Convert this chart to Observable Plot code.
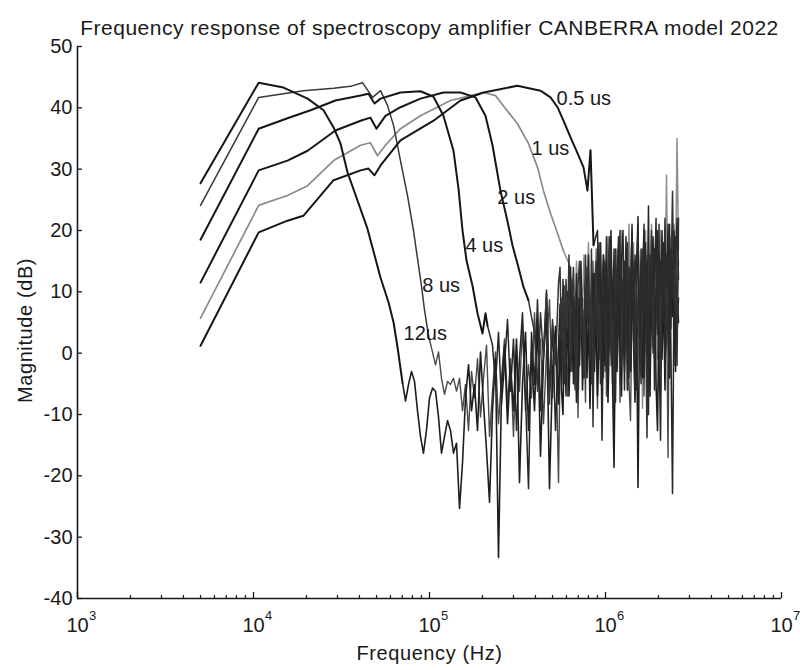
<!DOCTYPE html>
<html><head><meta charset="utf-8">
<script src="https://cdn.jsdelivr.net/npm/d3@7"></script>
<script src="https://cdn.jsdelivr.net/npm/@observablehq/plot@0.6"></script>
<style>body{margin:0;background:#fff}</style>
</head><body><div id="chart"></div>
<script>
const titleText = ["Frequency response of spectroscopy amplifier CANBERRA model 2022"];
const xTitle = ["Frequency (Hz)"];
const yTitle = ["Magnitude (dB)"];
const xDomain = [1e3, 1e7];
const yDomain = [-40, 50];
const yTicks = [-40, -30, -20, -10, 0, 10, 20, 30, 40, 50];
const xMajor = [1e3, 1e4, 1e5, 1e6, 1e7];
const xExp = ["3", "4", "5", "6", "7"];
const xMinor = [2e3,3e3,4e3,5e3,6e3,7e3,8e3,9e3, 2e4,3e4,4e4,5e4,6e4,7e4,8e4,9e4,
  2e5,3e5,4e5,5e5,6e5,7e5,8e5,9e5, 2e6,3e6,4e6,5e6,6e6,7e6,8e6,9e6];

const seriesNames = ["12us", "8us", "4us", "2us", "1us", "0.5us"];

// smooth (low-frequency) parts
const hz12 = [5e3,1.07e4,1.48e4,2.03e4,2.50e4,2.85e4,3.12e4,3.42e4,4.44e4,5.27e4,5.85e4,6.25e4,6.58e4,7.03e4];
const db12 = [27.7,44.1,43.3,41.5,39.6,36.8,34.2,29.5,20.3,12.3,8.3,5.0,1.0,-4.9];
const hz8 = [5e3,1.07e4,1.92e4,2.85e4,3.56e4,4.16e4,4.75e4,5.27e4,5.77e4,6.25e4,6.84e4,7.50e4,8.11e4,8.55e4,9.0e4,9.37e4,9.87e4];
const db8 = [24.1,41.7,42.8,43.2,43.5,44.1,41.7,42.8,40.4,37.1,31.4,25.7,20.0,15.4,11.0,7.0,2.9];
const hz4 = [5e3,1.07e4,1.56e4,2.11e4,2.92e4,4.06e4,4.50e4,4.87e4,5.27e4,6.84e4,8.89e4,1.054e5,1.20e5,1.369e5,1.462e5,1.54e5,1.623e5,1.755e5,1.874e5,2.00e5,2.08e5,2.136e5];
const db4 = [18.5,36.6,38.3,39.6,41.2,42.0,42.3,40.7,41.5,42.5,42.7,41.8,38.7,33.0,26.8,20.0,15.1,11.0,6.5,3.2,6.5,4.5];
const hz2 = [5e3,1.07e4,1.56e4,2.03e4,2.92e4,4.06e4,4.62e4,5.00e4,5.62e4,6.84e4,8.89e4,1.20e5,1.50e5,1.826e5,2.08e5,2.28e5,2.53e5,2.77e5,2.96e5,3.20e5,3.42e5,3.65e5];
const db2 = [11.5,29.8,31.4,33.0,36.3,37.9,38.4,36.6,38.7,40.1,41.5,42.5,42.5,41.7,38.7,33.9,26.5,21.6,17.6,14.0,10.8,8.6];
const hz1 = [5e3,1.07e4,1.56e4,2.03e4,2.85e4,4.06e4,4.62e4,5.06e4,5.62e4,6.84e4,8.89e4,1.316e5,1.71e5,2.03e5,2.37e5,2.70e5,3.16e5,3.65e5,4.11e5,4.44e5,4.87e5,5.34e5,5.77e5];
const db1 = [5.7,24.1,25.7,27.3,31.4,33.9,34.3,32.2,33.9,36.6,38.7,41.2,42.0,42.5,42.0,39.9,37.4,34.2,30.3,26.5,22.8,19.5,16.7];
const hz05 = [5e3,1.07e4,1.56e4,1.92e4,2.85e4,4.06e4,4.50e4,4.87e4,5.27e4,6.84e4,1.054e5,1.50e5,2.03e5,3.16e5,4.27e5,4.87e5,5.34e5,5.77e5,6.33e5,6.93e5,7.50e5,7.90e5,8.22e5,8.55e5];
const db05 = [1.2,19.7,21.6,22.4,28.2,29.8,30.1,29.0,30.6,34.7,37.9,41.2,42.5,43.6,42.8,41.7,40.1,37.9,35.2,32.6,30.3,26.5,33.1,17.6];

// noisy high-frequency parts: shared frequency bins, each series uses the tail
const noiseHz = [7.31e4,7.60e4,7.90e4,8.22e4,8.55e4,8.89e4,9.24e4,9.61e4,1.000e5,1.040e5,
 1.082e5,1.125e5,1.170e5,1.217e5,1.266e5,1.316e5,1.369e5,1.424e5,1.481e5,1.540e5,
 1.602e5,1.666e5,1.733e5,1.802e5,1.874e5,1.949e5,2.027e5,2.109e5,2.193e5,2.280e5,
 2.371e5,2.466e5,2.566e5,2.668e5,2.775e5,2.886e5,3.001e5,3.122e5,3.246e5,3.376e5,
 3.512e5,3.652e5,3.798e5,3.950e5,4.108e5,4.273e5,4.444e5,4.622e5,4.806e5,5.000e5,
 5.200e5,5.408e5,
 5.515e5,5.623e5,5.734e5,5.848e5,5.964e5,6.083e5,6.203e5,6.326e5,6.451e5,6.579e5,
 6.709e5,6.842e5,6.978e5,7.116e5,7.257e5,7.401e5,7.548e5,7.697e5,7.850e5,8.005e5,
 8.164e5,8.325e5,8.490e5,8.660e5,8.832e5,9.005e5,9.183e5,9.367e5,9.553e5,9.741e5,
 9.934e5,1.013e6,1.033e6,1.054e6,1.075e6,1.096e6,1.118e6,1.140e6,1.163e6,1.186e6,
 1.209e6,1.233e6,1.257e6,1.282e6,1.307e6,1.334e6,1.360e6,1.387e6,1.415e6,1.443e6,
 1.471e6,1.500e6,1.530e6,1.561e6,1.592e6,1.623e6,1.655e6,1.688e6,1.721e6,1.755e6,
 1.790e6,1.826e6,1.862e6,1.899e6,1.937e6,1.975e6,2.014e6,2.054e6,2.095e6,2.136e6,
 2.178e6,2.222e6,2.266e6,2.311e6,2.357e6,2.403e6,2.451e6,2.499e6,2.549e6,2.599e6];
const noise12 = [-7.8,-5.1,-3,-4.6,-9.4,-13.6,-16.3,-12.6,-7.3,-5.7,
 -6.2,-10.4,-16.3,-13.6,-11,-12.6,-16.3,-14.7,-25.3,-17.9,
 -7.3,-1.9,-9.4,-5.1,-12.6,0.2,-8.3,-15.8,-24.3,-9.4,
 -0.9,-33.3,-6.2,1.3,-11.5,-1.9,-9.4,2.3,-21.1,-5.1,
 3.4,-12.6,0.2,-9.4,5.5,-16.8,-0.9,6.6,-22.1,-3,
 4.4,-8.3,
 3,-6,-10,5,-3,8,-7,2,10,-5,
 4,-8,9,-2,11,-6,3,12,-4,7,
 -9,5,13,-3,8,-7,2,12,-5,9,
 -2,14,-8,4,11,-4,-18.6,6,-3,13,
 1,-7,10,-1,15,-6,7,-3,14,2,
 -8,9,-21.9,5,13,-4,8,16,-2,10,
 -7,12,1,17,-5,-12.6,9,15,-1,11,
 -6,16,3,-4,14,6,18,-3,10,5];
const noise8 = [-1.9,0.2,-4.1,-6.7,-4.6,-5.1,-4.1,-6.2,-4.1,-9.4,
 -5.1,-12.6,-3,-7.3,-0.9,-10.4,-4.1,1.3,-13.6,-6.2,
 0.2,-11.5,-4.1,2.3,-8.3,-0.9,-13.6,1.3,-6.2,4.4,
 -9.4,-1.9,-7.3,6.6,-5.1,2.3,-11.5,0.2,8.7,-7.3,
 3.4,-21.1,
 -2,9,-5,11,0,-7,8,-3,12,1,
 -6,10,-10.5,4,13,-2,7,-8,14,2,
 9,-5,15,-1,6,-9,16,3,10,-4,
 12,-7,5,17,-2,8,-6,14,0,11,
 -8,16,4,-3,12,7,-5,-11,9,15,
 1,-6,13,6,-2,17,-7,10,3,15,
 -4,11,18,-1,7,17,-6,12,2,16,
 -3,9,-17,14,4,19,-2,12,7,15];
const noise4 = [1.3,-5.1,3.4,-8.3,-1.9,5.5,-6.2,2.3,-12.6,-0.9,
 6.6,-7.3,-22.1,3.4,-5.1,8.7,-9.4,0.2,9.8,-6.2,
 4.4,-12.6,1.3,
 8,-4,12,2,-7,10,4,14,-3,9,
 0,13,-6,7,15,1,-4,11,5,16,
 -2,8,-8,13,3,17,-1,10,-14.2,6,
 15,-3,11,2,18,-5,9,14,-2,7,
 16,0,12,-6,19,4,10,-3,15,7,
 -7,13,22.3,-1,8,14,-4,18,5,24,
 -2,11,16,-6,9,20,2,-14.2,12,18,
 -3,14,7,21,-1,-22.9,10,17,3,9];
const noise2 = [3.4,-6.2,6.6,-0.9,10.3,-8.3,5.5,-1.9,11.4,
 14,2,10,-5,12,4,16,-2,9,14,
 1,-6,11,15,3,9,-4,16,6,12,
 -1,17,-12,8,15,2,18,-5,11,16,
 4,-3,13,19,0,10,-7,17,5,14,
 20,-2,9,15,3,18,-4,11,20,6,
 -1,14,19,3,-5,12,21,7,-13.8,16,
 9,20,0,13,18,4,21,-3,15,10,
 22,2,17,-4,12,26.4,8,19,-2,22];
const noise1 = [14,6,12,3,15,8,-1,13,7,16,
 2,11,18,5,-4,13,9,17,1,12,
 18,6,14,-3,10,19,4,15,8,-15.8,
 11,17,3,14,20,6,-2,16,10,21,
 2,13,18,-5,12,19,7,15,-9,11,
 20,5,16,9,21,3,14,18,-1,12,
 20,6,16,10,29,4,15,19,8,21,
 12,35,17];
const noise05 = [20,8,18,2,16,7,19,-4,13,20,
 5,17,-8,12,19,3,15,20,6,17,
 -6,14,9,21,2,16,11,21,-2,17,
 8,20,4,15,-10,16,7,19,12,22,
 3,16,9,20,5,18,11,21,-4,17,
 9,20,14,22,12];

// curve labels
const labelText = ["0.5 us", "1 us", "2 us", "4 us", "8 us", "12us"];
const labelHz = [5.27e5, 3.80e5, 2.43e5, 1.60e5, 9.1e4, 7.12e4];
const labelDb = [41.5, 33.4, 25.4, 17.6, 11.0, 3.2];

function smoothRows(name, hz, db) {
  return hz.map((h, i) => ({name, hz: h, db: db[i]}));
}
function noiseRows(name, hz, db, noise) {
  const last = hz.length - 1;
  const out = [{name, hz: hz[last], db: db[last]}];
  const start = noiseHz.length - noise.length;
  noise.forEach((v, i) => out.push({name, hz: noiseHz[start + i], db: v}));
  return out;
}
const curves = [
  {name: seriesNames[4], hz: hz1, db: db1, noise: noise1, stroke: "#8a8a8a", w: 1.7, nStroke: "#8e8e8e", nw: 1.5},
  {name: seriesNames[1], hz: hz8, db: db8, noise: noise8, stroke: "#383838", w: 1.5, nStroke: "#4a4a4a", nw: 1.4},
  {name: seriesNames[0], hz: hz12, db: db12, noise: noise12, stroke: "#161616", w: 2, nStroke: "#1e1e1e", nw: 1.6},
  {name: seriesNames[2], hz: hz4, db: db4, noise: noise4, stroke: "#161616", w: 2, nStroke: "#262626", nw: 1.5},
  {name: seriesNames[3], hz: hz2, db: db2, noise: noise2, stroke: "#161616", w: 2, nStroke: "#333333", nw: 1.5},
  {name: seriesNames[5], hz: hz05, db: db05, noise: noise05, stroke: "#161616", w: 2, nStroke: "#2a2a2a", nw: 1.5}
];

const FONT = "Liberation Sans, Arial, Helvetica, sans-serif";
const ink = "#1a1a1a";

const plot = Plot.plot({
  width: 800, height: 670,
  marginLeft: 77, marginRight: 19, marginTop: 46, marginBottom: 72,
  style: {fontFamily: FONT, background: "#fff", color: ink},
  x: {type: "log", domain: xDomain, axis: null},
  y: {domain: yDomain, axis: null},
  marks: [
    ...curves.map(c => Plot.line(noiseRows(c.name, c.hz, c.db, c.noise), {x: "hz", y: "db", stroke: c.nStroke, strokeWidth: c.nw, strokeLinejoin: "round"})),
    ...curves.map(c => Plot.line(smoothRows(c.name, c.hz, c.db), {x: "hz", y: "db", stroke: c.stroke, strokeWidth: c.w, strokeLinejoin: "round"})),
    Plot.ruleX(xDomain.slice(0, 1), {stroke: ink, strokeWidth: 1.6}),
    Plot.ruleY(yDomain.slice(0, 1), {stroke: ink, strokeWidth: 1.6}),
    Plot.tickY(yTicks, {y: d => d, insetRight: 699, stroke: ink, strokeWidth: 1.3}),
    Plot.tickX(xMajor, {x: d => d, insetTop: 546, stroke: ink, strokeWidth: 1.3}),
    Plot.tickX(xMinor, {x: d => d, insetTop: 549, stroke: ink, strokeWidth: 1.2}),
    Plot.text(yTicks, {x: () => xDomain[0], y: d => d, text: d => String(d), textAnchor: "end", dx: -5, fontSize: 20, fill: ink}),
    Plot.text(xMajor, {x: d => d, y: () => yDomain[0], text: () => "10", dy: 27, fontSize: 20, fill: ink}),
    Plot.text(xMajor, {x: d => d, y: () => yDomain[0], text: (d, i) => xExp[i], dx: 15, dy: 17, fontSize: 13, fill: ink}),
    Plot.text(labelText, {x: (d, i) => labelHz[i], y: (d, i) => labelDb[i], text: d => d, textAnchor: "start", fontSize: 20, fill: ink}),
    Plot.text(xTitle, {frameAnchor: "bottom", text: d => d, dy: 61, fontSize: 20, fill: ink}),
    Plot.text(yTitle, {frameAnchor: "left", text: d => d, rotate: -90, textAnchor: "middle", dx: -52, dy: 8, fontSize: 20, fill: ink}),
    Plot.text(titleText, {frameAnchor: "top", text: d => d, dy: -26, fontSize: 21, fill: ink})
  ]
});
d3.select(plot).selectAll("text")
  .filter(function() { return this.textContent === titleText[0]; })
  .style("letter-spacing", "0.5px");
d3.select(plot).selectAll("text")
  .filter(function() { return this.textContent === xTitle[0] || this.textContent === yTitle[0]; })
  .style("letter-spacing", "0.6px");
document.getElementById("chart").append(plot);
</script></body></html>
